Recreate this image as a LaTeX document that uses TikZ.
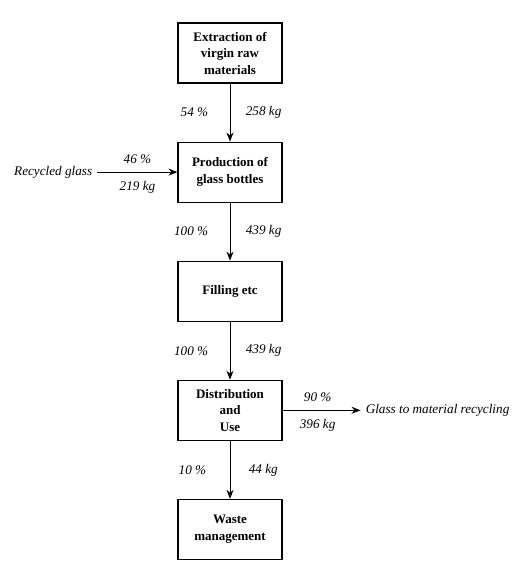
\documentclass[tikz,border=0pt]{standalone}
\usepackage{fontspec}
\setmainfont{Liberation Serif}
\usetikzlibrary{arrows.meta,positioning}

\begin{document}
\begin{tikzpicture}[
            process/.style={draw, line width=1.1pt, minimum width=104pt, minimum height=60pt, align=center, font=\fontsize{13}{16.5}\selectfont\bfseries},
            flowlabel/.style={font=\fontsize{13.2}{15}\selectfont\itshape},
            arrow/.style={-{Stealth[length=9pt, width=7pt]}, line width=1pt},
            node distance=58pt
        ]

        \useasboundingbox (0,0) rectangle (522pt,-569pt);

        \node[process] (extract) at (230pt,-53pt) {Extraction of\\virgin raw\\materials};

        \node[process, below=of extract] (prod) {Production of\\glass bottles};

        \node[process, below=of prod] (filling) {Filling etc};

        \node[process, below=of filling] (dist) {Distribution\\and\\Use};

        \node[process, below=of dist] (waste) {Waste\\management};

        % Inflow and outflow ends
        \node[flowlabel, left=80pt of prod, inner sep=5pt] (recycled) {Recycled glass};
        \node[flowlabel, right=78pt of dist, inner sep=5pt] (matrec) {Glass to material recycling};

        % Main data flow
        \draw[arrow] (extract) -- node[flowlabel, left=18pt] {54 \%} node[flowlabel, right=12pt] {258 kg} (prod);
        \draw[arrow] (prod) -- node[flowlabel, left=18pt] {100 \%} node[flowlabel, right=12pt] {439 kg} (filling);
        \draw[arrow] (filling) -- node[flowlabel, left=18pt] {100 \%} node[flowlabel, right=12pt] {439 kg} (dist);
        \draw[arrow] (dist) -- node[flowlabel, left=20pt] {10 \%} node[flowlabel, right=15pt] {44 kg} (waste);

        % Side flows
        \draw[arrow] (recycled) -- node[flowlabel, above=5pt] {46 \%} node[flowlabel, below=5pt] {219 kg} (prod);
        \draw[arrow] (dist) -- node[flowlabel, above=5pt, pos=.45] {90 \%} node[flowlabel, below=5pt, pos=.45] {396 kg} (matrec);

    \end{tikzpicture}
\end{document}
